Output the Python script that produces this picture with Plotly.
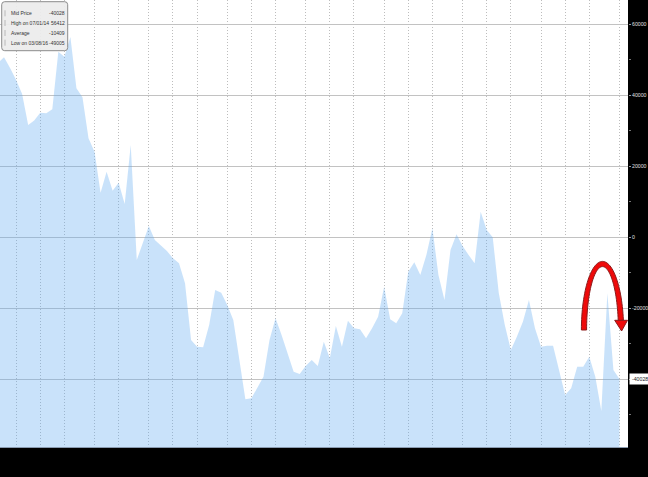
import numpy as np
import pandas as pd
import plotly.graph_objects as go

# ---------------- data (weekly mid price, Tuesdays) ----------------
start_date = "2014-04-08"
mid_price = [49080, 50690, 47670, 44290, 40340, 31600, 32870, 35070, 34900, 36030,
             52260, 50850, 56412, 41950, 39410, 27850, 24070, 12520, 18440, 13080,
             15340, 9330, 25960, -6460, -1660, 3130, -820, -2510, -3920, -5980,
             -7390, -13020, -29010, -30900, -31070, -24780, -14910, -15670, -19140, -23370,
             -34650, -45720, -45440, -42540, -39350, -29010, -22890, -27600, -32670, -37940,
             -38590, -36340, -34650, -36340, -29490, -34170, -25060, -30900, -23570, -25710,
             -25990, -28530, -25710, -22440, -13980, -23170, -24300, -21480, -9750, -7100,
             -10680, -5050, 2480, -10680, -17730, -3640, 790, -2510, -5050, -7390,
             7160, 2000, -60, -15760, -24780, -31830, -28080, -23850, -17730, -25710,
             -30900, -30610, -30610, -37460, -44510, -42620, -36530, -36530, -33720, -39350,
             -49005, -15840, -37460, -40028]

y_tick_vals = [-40000, -20000, 0, 20000, 40000, 60000]
y_tick_text = ["", "-20000", "0", "20000", "40000", "60000"]
y_minor_vals = [-50000, -30000, -10000, 10000, 30000, 50000]

legend_labels = ["Mid Price", "High on 07/01/14", "Average", "Low on 03/08/16"]
legend_values = ["-40028", "56412", "-10409", "-49005"]
last_value_label = "-40028"
last_value = -40028

# ---------------- derived axes ----------------
dates = pd.date_range(start_date, periods=len(mid_price), freq="7D")
s = pd.Series(dates)
grid_dates = list(s.groupby(s.dt.to_period("M")).max())
x_start = dates[0] + pd.Timedelta(days=7 * 0.3315)
x_end = dates[0] + pd.Timedelta(days=7 * 104.42)
y_lo, y_hi = -59170, 66840
baseline = [y_lo - 20000] * len(mid_price)

W_PLOT, H_PLOT = 628.0, 447.0


def px(x):
    return x / W_PLOT


def py(y):
    return 1 - y / H_PLOT


fig = go.Figure()
fig.add_trace(go.Scatter(x=dates, y=baseline, mode="lines",
                         line=dict(width=0), hoverinfo="skip", showlegend=False))
fig.add_trace(go.Scatter(x=dates, y=mid_price, mode="lines", fill="tonexty",
                         fillcolor="rgba(98,169,241,0.34)",
                         line=dict(width=0, color="rgba(98,169,241,0.34)"),
                         showlegend=False))

narrow = "Liberation Sans Narrow, Liberation Sans, Arial, sans-serif"

fig.update_layout(
    width=648, height=477,
    margin=dict(l=0, r=20, t=0, b=30, autoexpand=False),
    paper_bgcolor="black", plot_bgcolor="white",
    showlegend=False,
    xaxis=dict(type="date", range=[x_start, x_end], tickmode="array",
               tickvals=grid_dates, showticklabels=False, ticks="",
               showgrid=True, gridcolor="#bdbdbd", griddash="1px,2px", gridwidth=1,
               zeroline=False, showline=True, linecolor="#8a9bb0", linewidth=1,
               automargin=False),
    yaxis=dict(side="right", range=[y_lo, y_hi], tickmode="array",
               tickvals=y_tick_vals, ticktext=y_tick_text,
               showgrid=True, gridcolor="#c2c2c2", gridwidth=1, zeroline=False,
               ticks="outside", ticklen=2, tickcolor="#9a9a9a",
               ticklabelstandoff=0,
               tickfont=dict(family=narrow, size=5.2, color="#e0e0e0"),
               minor=dict(tickvals=y_minor_vals, ticks="outside", ticklen=2,
                          tickcolor="#777", showgrid=False),
               showline=False, automargin=False),
)

shapes = []
# legend box with rounded corners
x0, y0, x1, y1, r = 1.7, 1.7, 67.7, 50.7, 3
box = (f"M {px(x0 + r)} {py(y0)} L {px(x1 - r)} {py(y0)} Q {px(x1)} {py(y0)} {px(x1)} {py(y0 + r)} "
       f"L {px(x1)} {py(y1 - r)} Q {px(x1)} {py(y1)} {px(x1 - r)} {py(y1)} "
       f"L {px(x0 + r)} {py(y1)} Q {px(x0)} {py(y1)} {px(x0)} {py(y1 - r)} "
       f"L {px(x0)} {py(y0 + r)} Q {px(x0)} {py(y0)} {px(x0 + r)} {py(y0)} Z")
shapes.append(dict(type="path", xref="paper", yref="paper", path=box,
                   fillcolor="rgba(236,236,236,0.93)", line=dict(color="#8c8c8c", width=1),
                   layer="above"))
# tiny legend markers
for yy in [13.3, 23, 33, 42.7]:
    shapes.append(dict(type="line", xref="paper", yref="paper",
                       x0=px(5.0), x1=px(5.0), y0=py(yy - 3), y1=py(yy + 3),
                       line=dict(color="#b8b8b8", width=1), layer="above"))

# red arch arrow
cx, cy, rx, ry, w = 602.5, 330.0, 18.5, 66.0, 2.6
t_end = np.arcsin(9.5 / ry)
t = np.linspace(np.pi, t_end, 60)
outer = [(cx + (rx + w) * np.cos(a), cy - (ry + w) * np.sin(a)) for a in t]
inner = [(cx + (rx - w) * np.cos(a), cy - (ry - w) * np.sin(a)) for a in t[::-1]]
pts = outer + inner
arc_path = "M " + " L ".join(f"{px(xx):.5f} {py(yy):.5f}" for xx, yy in pts) + " Z"
shapes.append(dict(type="path", xref="paper", yref="paper", path=arc_path,
                   fillcolor="#ee0a0a", line=dict(color="#8b1a1a", width=1), layer="above"))
tip_x = cx + rx
head = (f"M {px(tip_x - 6.3)} {py(320.3)} L {px(tip_x + 6.5)} {py(320.3)} "
        f"L {px(tip_x + 0.6)} {py(331)} Z")
shapes.append(dict(type="path", xref="paper", yref="paper", path=head,
                   fillcolor="#ee0a0a", line=dict(color="#8b1a1a", width=1), layer="above"))
fig.update_layout(shapes=shapes)

ann = []
for lab, val, yy in zip(legend_labels, legend_values, [13.3, 23, 33, 42.7]):
    ann.append(dict(x=px(8.5), y=py(yy), xref="paper", yref="paper", text=lab,
                    showarrow=False, xanchor="left", yanchor="middle",
                    font=dict(family=narrow, size=5.0, color="#333")))
    ann.append(dict(x=px(66.5), y=py(yy), xref="paper", yref="paper", text=val,
                    showarrow=False, xanchor="right", yanchor="middle",
                    font=dict(family=narrow, size=5.0, color="#333")))
ann.append(dict(x=1, y=last_value, xref="paper", yref="y", text=last_value_label,
                showarrow=False, xanchor="left", yanchor="middle", xshift=1,
                bgcolor="white", borderpad=2,
                font=dict(family=narrow, size=5.2, color="#222")))
fig.update_layout(annotations=ann)

fig.write_html(
    "out.html",
    config={"displayModeBar": False},
    post_script="document.body.style.margin='0';document.body.style.overflow='hidden';",
)
